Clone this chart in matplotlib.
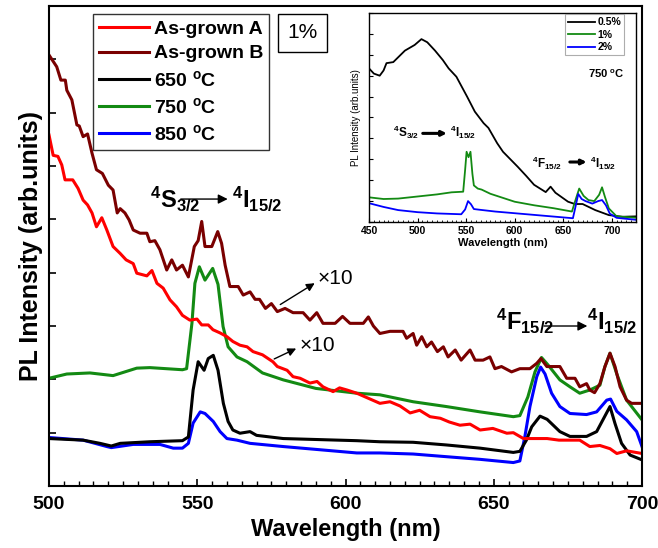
import numpy as np
import matplotlib
matplotlib.use('Agg')
import matplotlib.pyplot as plt
from matplotlib.ticker import MultipleLocator, NullFormatter

plt.rcParams['font.family'] = 'Liberation Sans'
plt.rcParams['mathtext.fontset'] = 'custom'
plt.rcParams['mathtext.rm'] = 'Liberation Sans'
plt.rcParams['mathtext.bf'] = 'Liberation Sans:bold'
plt.rcParams['mathtext.it'] = 'Liberation Sans:italic'
plt.rcParams['mathtext.default'] = 'bf'

# ── Main panel data (1 % Er, arb. units) ───────────────────────────────────
LABELS = ["As-grown A", "As-grown B", "650 $^{o}$C", "750 $^{o}$C", "850 $^{o}$C"]
COLORS = ["#ff0000", "#7a0000", "#000000", "#138a13", "#0000ff"]

grownA_x = [500, 501.4, 503, 504.3, 505.4, 508, 509.8, 511.5, 513, 514.5,
            516, 517.8, 519.5, 521.6, 524, 526, 528.4, 529.6, 533, 534.7,
            536.4, 538.5, 540.8, 543, 545, 547.5, 549.9, 551.5, 553.7, 555.3,
            557.7, 560, 562, 564.4, 566.8, 568.8, 572, 575.5, 577, 580.3,
            582.3, 584.7, 588, 590.4, 592.4, 595.8, 598, 600.5, 603.8, 611.6,
            615, 618.4, 621.8, 625, 628.5, 632, 635, 638.6, 642, 645.4,
            649.7, 654.4, 656.6, 660, 664.5, 668, 672, 676.7, 679, 682.4,
            685.8, 689.2, 691.5, 694.8, 700]
grownA_y = [6.58, 6.2, 6.18, 6.02, 5.74, 5.74, 5.58, 5.36, 5.27, 5.12,
            4.86, 5.03, 4.8, 4.49, 4.36, 4.24, 4.17, 3.99, 3.94, 4.04,
            3.8, 3.71, 3.49, 3.36, 3.2, 3.11, 3.13, 3.02, 3.02, 2.93,
            2.87, 2.8, 2.71, 2.64, 2.61, 2.52, 2.46, 2.33, 2.24, 2.17,
            2.05, 2.02, 1.93, 1.96, 1.86, 1.77, 1.84, 1.8, 1.74, 1.55,
            1.58, 1.5, 1.37, 1.42, 1.3, 1.27, 1.2, 1.14, 1.16, 1.05,
            1.08, 0.99, 1.0, 0.89, 0.89, 0.89, 0.86, 0.86, 0.86, 0.74,
            0.76, 0.7, 0.61, 0.66, 0.61]

grownB_x = [500, 502.6, 504, 505.5, 506, 507.7, 509.4, 510.2, 511.5, 513,
            514.5, 516, 518, 520, 521.6, 523, 524, 525.6, 527, 528.4,
            530.7, 533, 534, 535.7, 537.4, 539.7, 541.4, 543, 545, 547,
            549, 550.3, 551.5, 552.6, 554.9, 556.9, 558.2, 559.4, 561, 563.8,
            565.5, 567.8, 569.5, 571, 573, 575, 577, 579.6, 582.3, 585.7,
            588, 590.3, 592.4, 596.5, 599, 601.5, 606, 607.7, 609.4, 611.6,
            615, 619.4, 620.6, 622.8, 624, 625.7, 627.4, 629, 631, 633,
            634.6, 637, 639, 642, 643.7, 646.4, 648.7, 650.4, 652.6, 656,
            658.8, 662.2, 664.5, 665.9, 667.9, 672.3, 674.6, 677.4, 679, 681.3,
            682.4, 684, 685.8, 687.5, 689.2, 690.9, 692.6, 694.8, 696.5, 700]
grownB_y = [8.08, 7.86, 7.61, 7.61, 7.42, 7.24, 6.77, 6.75, 6.55, 6.6,
            6.24, 5.93, 5.86, 5.64, 5.55, 5.12, 5.2, 5.12, 4.99, 4.8,
            4.74, 4.74, 4.58, 4.6, 4.43, 4.05, 4.24, 4.05, 4.14, 3.92,
            4.49, 4.6, 4.96, 4.49, 4.49, 4.77, 4.55, 4.14, 3.74, 3.74,
            3.58, 3.64, 3.5, 3.5, 3.33, 3.42, 3.27, 3.33, 3.25, 3.25,
            3.11, 3.25, 3.05, 3.05, 3.18, 3.05, 3.05, 3.17, 3.0, 2.86,
            2.9, 2.9, 2.77, 2.86, 2.64, 2.8, 2.61, 2.7, 2.52, 2.61,
            2.42, 2.55, 2.36, 2.55, 2.36, 2.36, 2.42, 2.2, 2.24, 2.14,
            2.2, 2.2, 2.3, 2.39, 2.24, 2.24, 2.02, 2.02, 1.86, 1.92,
            1.8, 1.75, 1.92, 2.24, 2.49, 2.24, 1.86, 1.61, 1.55, 1.55]

a650_x = [500, 511.5, 517.2, 521, 524, 534, 545, 547, 548.6, 550.3,
          552.3, 553.7, 555.4, 557, 558.8, 560.4, 562, 564.4, 567.8, 570,
          579, 603.8, 611.6, 622.8, 634, 645.4, 656.6, 658.8, 661, 662.8,
          665.6, 668, 672.3, 675.7, 681.3, 684.7, 686.9, 689.2, 690.9, 693.1,
          696, 700]
a650_y = [0.89, 0.86, 0.8, 0.75, 0.8, 0.83, 0.85, 0.92, 1.8, 2.33,
          2.17, 2.39, 2.45, 2.17, 1.55, 1.21, 1.05, 0.99, 1.02, 0.95,
          0.89, 0.85, 0.83, 0.82, 0.77, 0.71, 0.63, 0.65, 0.86, 1.11,
          1.31, 1.25, 1.02, 0.93, 0.93, 1.02, 1.25, 1.49, 1.17, 0.8,
          0.58, 0.49]

a750_x = [500, 506, 513.8, 521.6, 529.6, 534, 545, 546.4, 548.2, 549.2,
          550.7, 552.6, 555.2, 557, 558.7, 560.4, 563.4, 566.8, 572, 579,
          590, 603.8, 611.6, 622.8, 634, 645.4, 656.6, 658.8, 661.5, 663.9,
          666.1, 668.3, 672.3, 675.7, 679, 682.4, 685.8, 687.5, 689.2, 691.5,
          694.8, 700]
a750_y = [2.02, 2.1, 2.12, 2.07, 2.21, 2.22, 2.18, 2.2, 3.05, 3.8,
          4.11, 3.86, 4.08, 3.78, 2.99, 2.61, 2.42, 2.33, 2.12, 1.99,
          1.83, 1.74, 1.71, 1.58, 1.49, 1.39, 1.3, 1.32, 1.67, 2.14,
          2.41, 2.27, 1.99, 1.86, 1.74, 1.8, 1.89, 2.24, 2.49, 2.1,
          1.61, 1.24]

a850_x = [500, 511.5, 519.5, 521, 528.4, 537.4, 541.9, 545, 547, 548.6,
          551, 552.6, 555.4, 557.7, 560, 563.4, 567.8, 579, 603.8, 611.6,
          622.8, 634, 645.4, 656.6, 658.8, 660.5, 662.2, 664.5, 665.8, 667.3,
          669.5, 672.3, 675.7, 681.3, 684.7, 688.1, 689.4, 691.5, 694.8, 698.2,
          700]
a850_y = [0.91, 0.86, 0.74, 0.72, 0.78, 0.78, 0.71, 0.71, 0.8, 1.18,
          1.39, 1.36, 1.21, 1.02, 0.89, 0.86, 0.8, 0.74, 0.62, 0.62,
          0.6, 0.55, 0.5, 0.44, 0.47, 0.93, 1.49, 2.05, 2.23, 2.1,
          1.74, 1.49, 1.36, 1.34, 1.39, 1.61, 1.63, 1.4, 1.24, 1.02,
          0.74]

# ── Inset data (750 C, three Er contents) ──────────────────────────────────
INSET_LABELS = ["0.5%", "1%", "2%"]
INSET_COLORS = ["#000000", "#138a13", "#0000ff"]

p05_x = [450, 455, 461, 465, 468, 475, 487, 497, 504, 510,
         518, 526, 532, 540, 551, 559, 568, 573, 582, 588,
         603, 612, 620, 632, 637, 642, 655, 662, 670, 683,
         697, 711, 726]
p05_y = [7.35, 7.1, 7.0, 7.25, 7.6, 7.65, 8.2, 8.47, 8.75, 8.6,
         8.2, 7.75, 7.35, 6.95, 6.0, 5.28, 4.73, 4.5, 3.77, 3.36,
         2.65, 2.2, 1.78, 1.43, 1.69, 1.4, 0.97, 0.86, 0.86, 0.57,
         0.33, 0.25, 0.27]

p1_x = [450, 465, 480, 500, 520, 535, 547, 549, 550.5, 552.5,
        554.5, 556.5, 558, 562, 566, 575, 600, 620, 640, 659,
        663, 666.5, 671, 676, 682, 687, 690, 693, 697, 705,
        726]
p1_y = [1.18, 1.1, 1.12, 1.22, 1.32, 1.42, 1.45, 2.5, 3.36, 3.1,
        3.36, 2.3, 1.75, 1.6, 1.55, 1.35, 0.97, 0.8, 0.66, 0.5,
        1.1, 1.6, 1.25, 1.05, 1.0, 1.3, 1.66, 1.2, 0.65, 0.27,
        0.2]

p2_x = [450, 465, 480, 500, 520, 545, 549, 552, 555, 558,
        565, 580, 600, 620, 640, 660, 663, 665.5, 669, 673,
        680, 686, 690, 694, 698, 705, 726]
p2_y = [0.9, 0.72, 0.57, 0.47, 0.41, 0.37, 0.6, 1.0, 0.85, 0.62,
        0.58, 0.5, 0.42, 0.34, 0.26, 0.18, 0.8, 1.34, 1.1, 1.0,
        0.88, 1.0, 1.05, 0.8, 0.4, 0.2, 0.1]

# ── Figure ─────────────────────────────────────────────────────────────────
fig = plt.figure(figsize=(6.58, 5.48), dpi=100)
ax = fig.add_axes([0.0745, 0.1131, 0.9012, 0.876])

series = [(grownA_x, grownA_y), (grownB_x, grownB_y), (a650_x, a650_y),
          (a750_x, a750_y), (a850_x, a850_y)]
handles = [None] * 5
for i in [4, 2, 3, 1, 0]:
    xs, ys = series[i]
    handles[i], = ax.plot(xs, ys, color=COLORS[i], lw=2.2, label=LABELS[i])

ax.set_xlim(500, 700)
ax.set_ylim(0, 9)
ax.xaxis.set_major_locator(MultipleLocator(50))
ax.xaxis.set_minor_locator(MultipleLocator(5))
ax.yaxis.set_major_locator(MultipleLocator(1))
ax.yaxis.set_major_formatter(NullFormatter())
ax.tick_params(which='both', direction='in', top=False, right=False)
ax.tick_params(which='major', length=5, width=1.2, pad=7, labelsize=14)
ax.tick_params(which='minor', length=3.5, width=1.0)
for lab in ax.get_xticklabels():
    lab.set_fontweight('bold')
for sp in ax.spines.values():
    sp.set_linewidth(1.5)

ax.set_xlabel("Wavelength (nm)", fontsize=17, fontweight='bold', labelpad=4)
ax.set_ylabel("PL Intensity (arb.units)", fontsize=18, fontweight='bold', labelpad=-3)

leg = ax.legend(handles=handles, loc='upper left', bbox_to_anchor=(0.074, 0.983),
                borderaxespad=0, fancybox=False, edgecolor='black',
                prop={'weight': 'bold', 'size': 14}, handlelength=2.6,
                handletextpad=0.25, labelspacing=0.37, borderpad=0.3)
leg.get_frame().set_linewidth(1.0)

ax.text(0.427, 0.944, "1%", transform=ax.transAxes, fontsize=15,
        ha='center', va='center',
        bbox=dict(boxstyle='square,pad=0.45', fc='white', ec='black', lw=1.0))

# transition labels
ax.text(534.1, 5.21, r"$^{4}$S$_{3/2}$", fontsize=17, fontweight='bold', va='baseline')
ax.annotate('', xy=(561.2, 5.38), xytext=(543.5, 5.38),
            arrowprops=dict(arrowstyle='-|>', color='k', lw=1.0, mutation_scale=14))
ax.text(561.7, 5.21, r"$^{4}$I$_{15/2}$", fontsize=17, fontweight='bold', va='baseline')

ax.text(650.9, 2.92, r"$^{4}$F$_{15/2}$", fontsize=17, fontweight='bold', va='baseline')
ax.annotate('', xy=(682.5, 3.0), xytext=(666.0, 3.0),
            arrowprops=dict(arrowstyle='-|>', color='k', lw=1.0, mutation_scale=14))
ax.text(681.5, 2.92, r"$^{4}$I$_{15/2}$", fontsize=17, fontweight='bold', va='baseline')

# x10 markers
ax.annotate('', xy=(590.4, 3.83), xytext=(577.2, 3.375),
            arrowprops=dict(arrowstyle='-|>', color='k', lw=1.0, mutation_scale=12))
ax.text(590.6, 3.9, "\u00d710", fontsize=15, va='center')
ax.annotate('', xy=(584.2, 2.6), xytext=(575.1, 2.36),
            arrowprops=dict(arrowstyle='-|>', color='k', lw=1.0, mutation_scale=12))
ax.text(584.6, 2.64, "\u00d710", fontsize=15, va='center')

# ── Inset ──────────────────────────────────────────────────────────────────
ins = fig.add_axes([0.5608, 0.5949, 0.4058, 0.3814])
inset_series = [(p05_x, p05_y), (p1_x, p1_y), (p2_x, p2_y)]
for (xs, ys), c, l in zip(inset_series, INSET_COLORS, INSET_LABELS):
    ins.plot(xs, ys, color=c, lw=1.3, label=l)

ins.set_xlim(450, 725)
ins.set_ylim(0, 10)
ins.xaxis.set_major_locator(MultipleLocator(50))
ins.xaxis.set_minor_locator(MultipleLocator(5))
ins.yaxis.set_major_locator(MultipleLocator(1))
ins.yaxis.set_major_formatter(NullFormatter())
ins.tick_params(which='both', direction='in', top=False, right=False)
ins.tick_params(which='major', length=3, width=0.8, pad=3, labelsize=7.5)
ins.tick_params(which='minor', length=1.8, width=0.6)
for lab in ins.get_xticklabels():
    lab.set_fontweight('bold')
for sp in ins.spines.values():
    sp.set_linewidth(1.0)
ins.set_xlabel("Wavelength (nm)", fontsize=8, fontweight='bold', labelpad=1)
ins.set_ylabel("PL Intensity (arb.units)", fontsize=7, labelpad=3)

ileg = ins.legend(loc='upper right', bbox_to_anchor=(0.955, 0.995), borderaxespad=0,
                  fancybox=False, edgecolor='#999999',
                  prop={'weight': 'bold', 'size': 7.5}, handlelength=2.6,
                  handletextpad=0.2, labelspacing=0.25, borderpad=0.3)
ileg.get_frame().set_linewidth(0.8)
ins.text(0.888, 0.708, "750 $^{o}$C", transform=ins.transAxes, fontsize=8,
         fontweight='bold', ha='center', va='center')

ins.text(474.7, 4.08, r"$^{4}$S$_{3/2}$", fontsize=8.5, fontweight='bold', va='baseline')
ins.annotate('', xy=(533.0, 4.24), xytext=(502.5, 4.24),
             arrowprops=dict(arrowstyle='-|>', color='k', lw=2.2, mutation_scale=7))
ins.text(533.4, 4.08, r"$^{4}$I$_{15/2}$", fontsize=8.5, fontweight='bold', va='baseline')
ins.text(617.9, 2.57, r"$^{4}$F$_{15/2}$", fontsize=8.5, fontweight='bold', va='baseline')
ins.annotate('', xy=(677.0, 2.87), xytext=(654.0, 2.87),
             arrowprops=dict(arrowstyle='-|>', color='k', lw=2.2, mutation_scale=7))
ins.text(677.6, 2.57, r"$^{4}$I$_{15/2}$", fontsize=8.5, fontweight='bold', va='baseline')

fig.savefig("out.png", dpi=100)
plt.close()
